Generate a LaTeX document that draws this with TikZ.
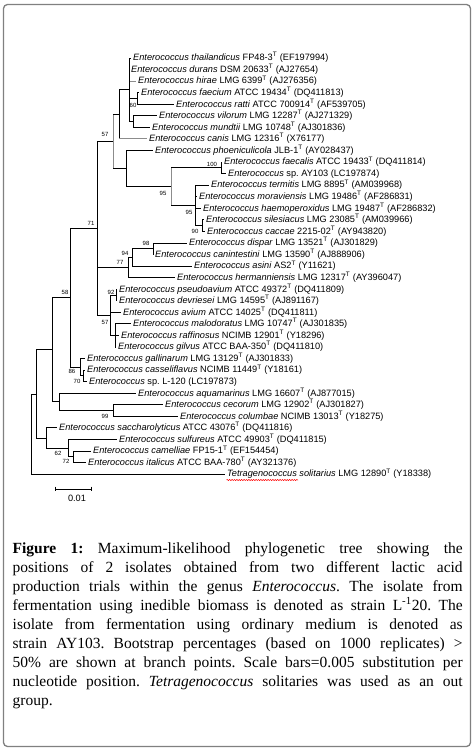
\documentclass[tikz,border=0pt]{standalone}
\usepackage{fontspec}
\setmainfont{Liberation Serif}
\newfontfamily\treefont{Liberation Sans}
\usetikzlibrary{decorations.pathmorphing}
\frenchspacing
\tikzset{
  br/.style={line width=0.85pt, black},
  brg/.style={line width=0.85pt, black!45},
  leaf/.style={anchor=west, inner xsep=2pt, inner ysep=0pt, text height=7.3pt, text depth=1.7pt, font=\treefont\fontsize{9.2}{10}\selectfont},
  bs/.style={inner sep=0pt, font=\treefont\fontsize{6}{6}\selectfont},
  capline/.style={anchor=base west, inner sep=0pt, font=\fontsize{15.5}{19}\selectfont},
  frame/.style={draw=black!50, line width=1.3pt, rounded corners=4pt}
}
\newcommand{\ent}[1]{\textit{Enterococcus #1}}
\newcommand{\Ty}{\textsuperscript{T}}
\begin{document}
\begin{tikzpicture}[x=1pt,y=-1pt]
\useasboundingbox (0,0) rectangle (475,751);
\node[frame, minimum width=467pt, minimum height=742pt, inner sep=0pt] (box) at (237,375.5) {};

% internal nodes
\coordinate (A) at (129,89.79);
\coordinate (N60) at (137,98.46);
\coordinate (Nvm) at (133,121.58);
\coordinate (B) at (119,114.355);
\coordinate (C) at (113,141.45);
\coordinate (D) at (126,168.54);
\coordinate (F) at (171,186.605);
\coordinate (G) at (221,167.82);
\coordinate (H) at (195,205.39);
\coordinate (J) at (202,225.62);
\coordinate (E) at (97,228.33);
\coordinate (N77) at (128,267.525);
\coordinate (N94) at (132,257.41);
\coordinate (N98) at (153,248.74);
\coordinate (N57b) at (110,315.21);
\coordinate (N92) at (116,294.98);
\coordinate (M) at (115,335.44);
\coordinate (K) at (70,297.78);
\coordinate (N86) at (80,367.23);
\coordinate (N70) at (83,375.90);
\coordinate (L) at (52,349.845);
\coordinate (Naq) at (59,401.91);
\coordinate (N99) at (113,410.58);
\coordinate (R2) at (36,393.94);
\coordinate (S) at (46,438.035);
\coordinate (N62) at (68,448.15);
\coordinate (N72) at (73,456.82);
\coordinate (Root) at (31,434.05);

% leaves
\node[leaf] (l1) at (131,58.00) {\ent{thailandicus} FP48-3\Ty{} (EF197994)};
\node[leaf] (l2) at (129,69.56) {\ent{durans} DSM 20633\Ty{} (AJ27654)};
\node[leaf] (l3) at (136,81.12) {\ent{hirae} LMG 6399\Ty{} (AJ276356)};
\node[leaf] (l4) at (139,92.68) {\ent{faecium} ATCC 19434\Ty{} (DQ411813)};
\node[leaf] (l5) at (174,104.24) {\ent{ratti} ATCC 700914\Ty{} (AF539705)};
\node[leaf] (l6) at (157,115.80) {\ent{vilorum} LMG 12287\Ty{} (AJ271329)};
\node[leaf] (l7) at (150,127.36) {\ent{mundtii} LMG 10748\Ty{} (AJ301836)};
\node[leaf] (l8) at (147,138.92) {\ent{canis} LMG 12316\Ty{} (X76177)};
\node[leaf] (l9) at (153,150.48) {\ent{phoeniculicola} JLB-1\Ty{} (AY028437)};
\node[leaf] (l10) at (222,162.04) {\ent{faecalis} ATCC 19433\Ty{} (DQ411814)};
\node[leaf] (l11) at (226,173.60) {\textit{Enterococcus} sp. AY103 (LC197874)};
\node[leaf] (l12) at (209,185.16) {\ent{termitis} LMG 8895\Ty{} (AM039968)};
\node[leaf] (l13) at (197,196.72) {\ent{moraviensis} LMG 19486\Ty{} (AF286831)};
\node[leaf] (l14) at (201,208.28) {\ent{haemoperoxidus} LMG 19487\Ty{} (AF286832)};
\node[leaf] (l15) at (204,219.84) {\ent{silesiacus} LMG 23085\Ty{} (AM039966)};
\node[leaf] (l16) at (205,231.40) {\ent{caccae} 2215-02\Ty{} (AY943820)};
\node[leaf] (l17) at (187,242.96) {\ent{dispar} LMG 13521\Ty{} (AJ301829)};
\node[leaf] (l18) at (153,254.52) {\ent{canintestini} LMG 13590\Ty{} (AJ888906)};
\node[leaf] (l19) at (192,266.08) {\ent{asini} AS2\Ty{} (Y11621)};
\node[leaf] (l20) at (175,277.64) {\ent{hermanniensis} LMG 12317\Ty{} (AY396047)};
\node[leaf] (l21) at (117,289.20) {\ent{pseudoavium} ATCC 49372\Ty{} (DQ411809)};
\node[leaf] (l22) at (117,300.76) {\ent{devriesei} LMG 14595\Ty{} (AJ891167)};
\node[leaf] (l23) at (121,312.32) {\ent{avium} ATCC 14025\Ty{} (DQ411811)};
\node[leaf] (l24) at (131,323.88) {\ent{malodoratus} LMG 10747\Ty{} (AJ301835)};
\node[leaf] (l25) at (119,335.44) {\ent{raffinosus} NCIMB 12901\Ty{} (Y18296)};
\node[leaf] (l26) at (116,347.00) {\ent{gilvus} ATCC BAA-350\Ty{} (DQ411810)};
\node[leaf] (l27) at (85,358.56) {\ent{gallinarum} LMG 13129\Ty{} (AJ301833)};
\node[leaf] (l28) at (85,370.12) {\ent{casseliflavus} NCIMB 11449\Ty{} (Y18161)};
\node[leaf] (l29) at (87,381.68) {\textit{Enterococcus} sp. L-120 (LC197873)};
\node[leaf] (l30) at (136,393.24) {\ent{aquamarinus} LMG 16607\Ty{} (AJ877015)};
\node[leaf] (l31) at (163,404.80) {\ent{cecorum} LMG 12902\Ty{} (AJ301827)};
\node[leaf] (l32) at (178,416.36) {\ent{columbae} NCIMB 13013\Ty{} (Y18275)};
\node[leaf] (l33) at (57,427.92) {\ent{saccharolyticus} ATCC 43076\Ty{} (DQ411816)};
\node[leaf] (l34) at (117,439.48) {\ent{sulfureus} ATCC 49903\Ty{} (DQ411815)};
\node[leaf] (l35) at (91,451.04) {\ent{camelliae} FP15-1\Ty{} (EF154454)};
\node[leaf] (l36) at (86,462.60) {\ent{italicus} ATCC BAA-780\Ty{} (AY321376)};
\node[leaf] (l37) at (225,474.16) {\textit{Tetragenococcus solitarius} LMG 12890\Ty{} (Y18338)};

% branches
\draw[brg] (A |- l3.west) -- (l3.west);
\draw[br] (A) |- (l1.west);
\draw[br] (A) |- (l2.west);
\draw[br] (A) |- (N60);
\draw[br] (A) |- (Nvm);
\draw[br] (N60) |- (l4.west);
\draw[br] (N60) |- (l5.west);
\draw[br] (Nvm) |- (l6.west);
\draw[br] (Nvm) |- (l7.west);
\draw[br] (B) |- (A);
\draw[br] (B) -- (B |- l8.west);
\draw[brg] (B |- l8.west) -- (l8.west);
\draw[brg] (C |- B) -- (C |- D);
\draw[br] (C |- B) -- (B);
\draw[br] (C |- D) -- (D);
\draw[br] (D) |- (l9.west);
\draw[br] (D) |- (F);
\draw[brg] (F |- G) -- (F |- H);
\draw[br] (F |- G) -- (G);
\draw[br] (F |- H) -- (H);
\draw[br] (G) |- (l10.west);
\draw[br] (G) |- (l11.west);
\draw[br] (H) |- (l12.west);
\draw[br] (H) |- (l13.west);
\draw[br] (H) |- (l14.west);
\draw[br] (H) |- (J);
\draw[br] (J) |- (l15.west);
\draw[br] (J) |- (l16.west);
\draw[br] (E) |- (C);
\draw[br] (E) |- (N77);
\draw[br] (E) |- (N57b);
\draw[br] (N77) |- (N94);
\draw[br] (N77) |- (l20.west);
\draw[br] (N94) |- (N98);
\draw[br] (N94) |- (l19.west);
\draw[br] (N98) |- (l17.west);
\draw[br] (N98) |- (l18.west);
\draw[br] (N57b) |- (N92);
\draw[br] (N57b) |- (l23.west);
\draw[br] (N57b) |- (M);
\draw[br] (N92) |- (l21.west);
\draw[br] (N92) |- (l22.west);
\draw[br] (M) |- (l24.west);
\draw[br] (M) |- (l25.west);
\draw[br] (M) |- (l26.west);
\draw[br] (K) |- (E);
\draw[br] (K) |- (N86);
\draw[br] (N86) |- (l27.west);
\draw[br] (N86) |- (N70);
\draw[br] (N70) |- (l28.west);
\draw[br] (N70) |- (l29.west);
\draw[br] (L) |- (K);
\draw[br] (L) |- (Naq);
\draw[br] (Naq) |- (l30.west);
\draw[br] (Naq) |- (N99);
\draw[br] (N99) |- (l31.west);
\draw[br] (N99) |- (l32.west);
\draw[br] (R2) |- (L);
\draw[br] (R2) |- (S);
\draw[br] (S) |- (l33.west);
\draw[br] (S) |- (N62);
\draw[br] (N62) |- (l34.west);
\draw[br] (N62) |- (N72);
\draw[br] (N72) |- (l35.west);
\draw[br] (N72) |- (l36.west);
\draw[br] (Root) |- (R2);
\draw[br] (Root) |- (l37.west);

% spell-check underline
\draw[red, line width=0.5pt, decorate, decoration={snake, amplitude=0.6pt, segment length=2.4pt}] (226.5,480) -- (298,480);

% bootstrap values
\node[bs] (b60) at (133,105) {60};
\node[bs] (b57a) at (105,134) {57};
\node[bs] (b100) at (212,164) {100};
\node[bs] (b95a) at (163,193) {95};
\node[bs] (b95b) at (189,212) {95};
\node[bs] (b90) at (195,231) {90};
\node[bs] (b71) at (91,223) {71};
\node[bs] (b98) at (146,243) {98};
\node[bs] (b94) at (125,253) {94};
\node[bs] (b77) at (120,262) {77};
\node[bs] (b92) at (111,292) {92};
\node[bs] (b57b) at (105,322) {57};
\node[bs] (b58) at (65,292) {58};
\node[bs] (b86) at (72,371) {86};
\node[bs] (b70) at (77,381) {70};
\node[bs] (b99) at (105,416) {99};
\node[bs] (b62) at (58,453) {62};
\node[bs] (b72) at (66,461) {72};

% scale bar
\coordinate (sbL) at (55,489);
\coordinate (sbR) at (91,489);
\draw[br] (sbL) -- (sbR);
\draw[br] ([yshift=2.5pt]sbL) -- ([yshift=-2pt]sbL);
\draw[br] ([yshift=2.5pt]sbR) -- ([yshift=-2pt]sbR);
\node[inner sep=0pt, font=\treefont\fontsize{9.2}{10}\selectfont] (sbt) at (77,498) {0.01};

% caption
\node[capline] (c1) at (12.5,553.0) {\makebox[450pt][s]{\textbf{Figure 1:} Maximum-likelihood phylogenetic tree showing the}};
\node[capline] (c2) at (12.5,572.0) {\makebox[450pt][s]{positions of 2 isolates obtained from two different lactic acid}};
\node[capline] (c3) at (12.5,591.1) {\makebox[450pt][s]{production trials within the genus \textit{Enterococcus}. The isolate from}};
\node[capline] (c4) at (12.5,610.1) {\makebox[450pt][s]{fermentation using inedible biomass is denoted as strain L\textsuperscript{-1}20. The}};
\node[capline] (c5) at (12.5,629.2) {\makebox[450pt][s]{isolate from fermentation using ordinary medium is denoted as}};
\node[capline] (c6) at (12.5,648.2) {\makebox[450pt][s]{strain AY103. Bootstrap percentages (based on 1000 replicates) >}};
\node[capline] (c7) at (12.5,667.2) {\makebox[450pt][s]{50\% are shown at branch points. Scale bars=0.005 substitution per}};
\node[capline] (c8) at (12.5,686.3) {\makebox[450pt][s]{nucleotide position. \textit{Tetragenococcus} solitaries was used as an out}};
\node[capline] (c9) at (12.5,705.3) {group.};
\end{tikzpicture}
\end{document}
